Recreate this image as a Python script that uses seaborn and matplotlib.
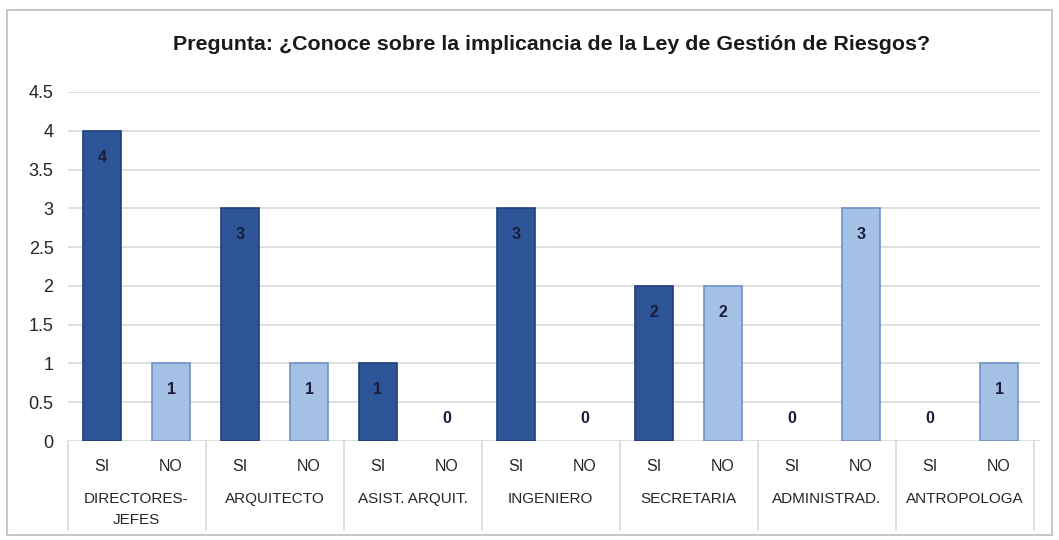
import numpy as np
import pandas as pd
import matplotlib
matplotlib.use('Agg')
import matplotlib.pyplot as plt
import seaborn as sns
from matplotlib.patches import Rectangle
from matplotlib.transforms import blended_transform_factory

## data
grupos = ['DIRECTORES-\nJEFES', 'ARQUITECTO', 'ASIST. ARQUIT.', 'INGENIERO',
          'SECRETARIA', 'ADMINISTRAD.', 'ANTROPOLOGA']
respuestas = ['SI', 'NO']
si_vals = [4, 3, 1, 3, 2, 0, 0]
no_vals = [1, 1, 0, 0, 2, 3, 1]
titulo = 'Pregunta: ¿Conoce sobre la implicancia de la Ley de Gestión de Riesgos?'

## long table, one row per bar
filas = []
for g, s, n in zip(grupos, si_vals, no_vals):
    filas.append((g, 'SI', s))
    filas.append((g, 'NO', n))
df = pd.DataFrame(filas, columns=['grupo', 'respuesta', 'valor'])
df['slot'] = df['grupo'] + '|' + df['respuesta']

sns.set_style('white')
plt.rcParams['font.family'] = ['Liberation Sans', 'DejaVu Sans']
txt = '#262626'

fig = plt.figure(figsize=(10.59, 5.4), dpi=100)
ax = fig.add_axes([67.5 / 1059, 1 - 441 / 540, (1040 - 67.5) / 1059, 349 / 540])

colores = {'SI': '#2E5598', 'NO': '#A6C1E6'}
bordes = {'SI': '#1F3F7A', 'NO': '#7292C6'}
sns.barplot(data=df, x='slot', y='valor', hue='respuesta', order=list(df['slot']),
            hue_order=respuestas, palette=colores, dodge=False, width=0.55,
            saturation=1, legend=False, ax=ax)
for cont, r in zip(ax.containers, respuestas):
    for p in cont:
        p.set_edgecolor(bordes[r])
        p.set_linewidth(1.2 if p.get_height() > 0 else 0)

ax.set_ylim(0, 4.5)
ax.set_xlim(-0.5, 13.5 + 6.5 / 69)
ax.set_yticks(np.arange(0, 4.51, 0.5))
ax.set_yticklabels(['0', '0.5', '1', '1.5', '2', '2.5', '3', '3.5', '4', '4.5'],
                   fontsize=13, color=txt)
ax.tick_params(axis='y', length=0, pad=10)
ax.set_xticks(range(len(df)))
ax.set_xticklabels(df['respuesta'], fontsize=11.5, color=txt)
ax.tick_params(axis='x', length=0, pad=13)
ax.set_xlabel('')
ax.set_ylabel('')
ax.yaxis.grid(True, color='#D9D9D9', lw=1.2)
ax.set_axisbelow(True)
sns.despine(ax=ax, left=True, bottom=True)

## value labels
for i, v in enumerate(df['valor']):
    if v > 0:
        ax.annotate(str(v), (i, v), xytext=(0, -19), textcoords='offset points',
                    ha='center', va='center', fontsize=11.5, fontweight='bold',
                    color='#1B1B3A')
    else:
        ax.annotate(str(v), (i, 0), xytext=(0, 16), textcoords='offset points',
                    ha='center', va='center', fontsize=11.5, fontweight='bold',
                    color='#1B1B3A')

## second level of the category axis
trans = blended_transform_factory(ax.transData, ax.transAxes)
for k, g in enumerate(grupos):
    ax.text(2 * k + 0.5, -0.146, g, transform=trans, ha='center', va='top',
            fontsize=11, color=txt, linespacing=1.6)
for k in range(len(grupos) + 1):
    ax.plot([2 * k - 0.5, 2 * k - 0.5], [0, -0.255], transform=trans,
            color='#D9D9D9', lw=1.2, clip_on=False)

## title and outer frame
fig.text(552 / 1059, 1 - 45 / 540, titulo, ha='center', va='center', fontsize=15.4,
         fontweight='bold', color='#1a1a1a')
fig.patches.append(Rectangle((7 / 1059, 1 - 535 / 540), 1045 / 1059, 525 / 540,
                             transform=fig.transFigure, fill=False,
                             edgecolor='#C8C8C8', lw=1.5))

fig.savefig('out.png', dpi=100)
